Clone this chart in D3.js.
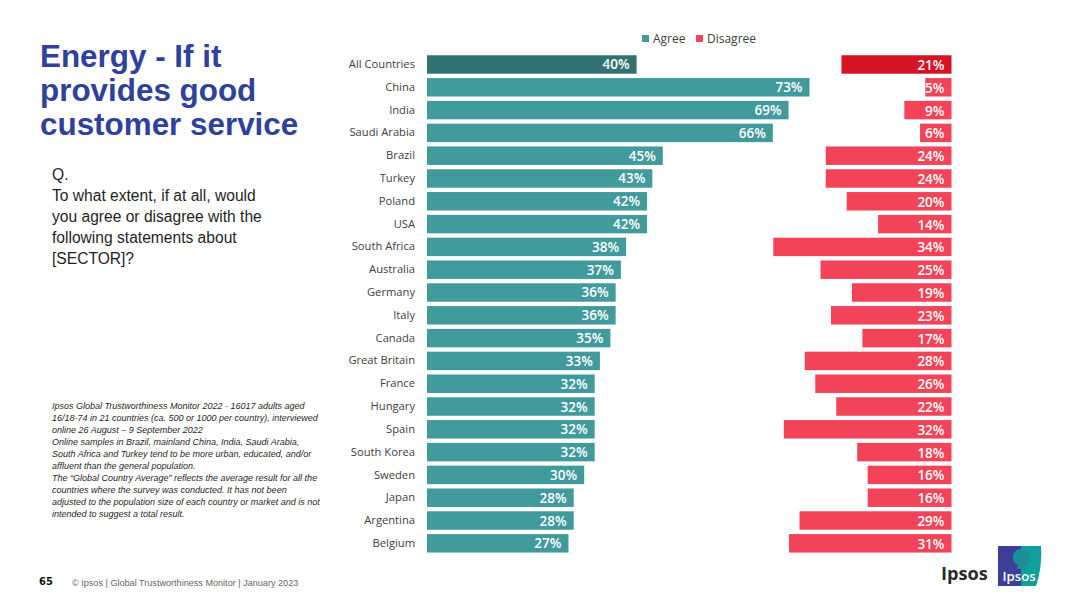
<!DOCTYPE html>
<html>
<head>
<meta charset="utf-8">
<script src="https://d3js.org/d3.v7.min.js"></script>
<style>
  html, body { margin: 0; padding: 0; background: #fff; }
  svg { display: block; }
  .country { font: 11.2px "Open Sans", sans-serif; fill: #404040; }
  .val { font: 600 13.5px "Open Sans", sans-serif; fill: #fff; text-anchor: end; }
  .legend { font: 12px "Open Sans", sans-serif; fill: #404040; }
  .title { font: bold 31.4px "Liberation Sans", Arial, sans-serif; fill: #2f419b; }
  .question { font: 15.6px "Liberation Sans", Arial, sans-serif; fill: #1f1f1f; }
  .note { font: italic 9px "Liberation Sans", Arial, sans-serif; fill: #1f1f1f; }
</style>
</head>
<body>
<svg width="1080" height="607"></svg>
<script>
const countries = ["All Countries", "China", "India", "Saudi Arabia", "Brazil", "Turkey", "Poland", "USA",
  "South Africa", "Australia", "Germany", "Italy", "Canada", "Great Britain", "France", "Hungary",
  "Spain", "South Korea", "Sweden", "Japan", "Argentina", "Belgium"];
const agree = [40, 73, 69, 66, 45, 43, 42, 42, 38, 37, 36, 36, 35, 33, 32, 32, 32, 32, 30, 28, 28, 27];
const disagree = [21, 5, 9, 6, 24, 24, 20, 14, 34, 25, 19, 23, 17, 28, 26, 22, 32, 18, 16, 16, 29, 31];
const seriesNames = ["Agree", "Disagree"];
const titleLines = ["Energy - If it", "provides good", "customer service"];
const questionLines = ["Q.", "To what extent, if at all, would", "you agree or disagree with the",
  "following statements about", "[SECTOR]?"];
const noteLines = ["Ipsos Global Trustworthiness Monitor 2022 - 16017 adults aged",
  "16/18-74 in 21 countries (ca. 500 or 1000 per country), interviewed",
  "online 26 August \u2013 9 September 2022",
  "Online samples in Brazil, mainland China, India, Saudi Arabia,",
  "South Africa and Turkey tend to be more urban, educated, and/or",
  "affluent than the general population.",
  "The \u201cGlobal Country Average\u201d reflects the average result for all the",
  "countries where the survey was conducted. It has not been",
  "adjusted to the population size of each country or market and is not",
  "intended to suggest a total result."];

const svg = d3.select("svg");

//row positions
const y = d3.scaleBand().domain(countries).range([53.2, 554.6]).paddingInner(0.19).paddingOuter(0.09);

//both sides use the same px per percent
const xAgree = d3.scaleLinear().domain([0, 100]).range([427, 951]);
const xDisagree = d3.scaleLinear().domain([0, 100]).range([951.5, 427.5]);

const colorAgree = i => i === 0 ? "#327273" : "#419a9b";
const colorDisagree = i => i === 0 ? "#d71224" : "#f24358";

//country labels
svg.append("g")
    .call(d3.axisLeft(y).tickSize(0).tickPadding(0))
    .attr("transform", "translate(415, 0)")
    .call(g => g.select(".domain").remove())
    .selectAll("text")
    .attr("class", "country")
    .attr("dy", "0.32em");

//agree bars
svg.append("g").selectAll("rect")
    .data(agree)
    .enter()
    .append("rect")
    .attr("x", xAgree(0))
    .attr("y", (d, i) => y(countries[i]))
    .attr("width", d => xAgree(d) - xAgree(0))
    .attr("height", y.bandwidth())
    .attr("fill", (d, i) => colorAgree(i));

//disagree bars
svg.append("g").selectAll("rect")
    .data(disagree)
    .enter()
    .append("rect")
    .attr("x", d => xDisagree(d))
    .attr("y", (d, i) => y(countries[i]))
    .attr("width", d => xDisagree(0) - xDisagree(d))
    .attr("height", y.bandwidth())
    .attr("fill", (d, i) => colorDisagree(i));

//value labels
svg.append("g").selectAll("text")
    .data(agree)
    .enter()
    .append("text")
    .attr("class", "val")
    .attr("x", d => xAgree(d) - 7)
    .attr("y", (d, i) => y(countries[i]) + y.bandwidth() / 2 + 5)
    .text(d => d + "%");

svg.append("g").selectAll("text")
    .data(disagree)
    .enter()
    .append("text")
    .attr("class", "val")
    .attr("x", xDisagree(0) - 7)
    .attr("y", (d, i) => y(countries[i]) + y.bandwidth() / 2 + 5.5)
    .text(d => d + "%");

//legend
const legendX = [642, 696];
seriesNames.forEach((name, i) => {
    svg.append("rect")
        .attr("x", legendX[i]).attr("y", 35)
        .attr("width", 7).attr("height", 7)
        .attr("fill", i === 0 ? colorAgree(1) : colorDisagree(1));
    svg.append("text")
        .attr("class", "legend")
        .attr("x", legendX[i] + 11).attr("y", 43)
        .text(name);
});

//left column text
svg.append("g").selectAll("text")
    .data(titleLines)
    .enter()
    .append("text")
    .attr("class", "title")
    .attr("x", 40)
    .attr("y", (d, i) => 66.5 + i * 34)
    .text(d => d);

svg.append("g").selectAll("text")
    .data(questionLines)
    .enter()
    .append("text")
    .attr("class", "question")
    .attr("x", 52)
    .attr("y", (d, i) => 179.5 + i * 21)
    .text(d => d);

svg.append("g").selectAll("text")
    .data(noteLines)
    .enter()
    .append("text")
    .attr("class", "note")
    .attr("x", 52)
    .attr("y", (d, i) => 409 + i * 12)
    .text(d => d);

//footer
svg.append("text")
    .attr("x", 39).attr("y", 585)
    .style("font", "bold 10px 'DejaVu Sans', sans-serif")
    .attr("fill", "#111")
    .text("65");
svg.append("text")
    .attr("x", 72).attr("y", 586)
    .style("font", "9.1px 'Liberation Sans', Arial, sans-serif")
    .attr("fill", "#666")
    .text("\u00a9 Ipsos | Global Trustworthiness Monitor | January 2023");

//logo
svg.append("text")
    .attr("x", 941).attr("y", 580)
    .style("font", "700 18.2px 'Open Sans', sans-serif")
    .attr("fill", "#2b2b2b")
    .text("Ipsos");
svg.append("path").attr("d", "M998 546H1021V586H998Z").attr("fill", "#3c3f98");
svg.append("path").attr("d", "M1021 546H1041C1042 560 1040 574 1036 586H1021Z").attr("fill", "#0fa09b");
svg.append("path")
    .attr("d", "M1014 562C1011 556 1014 550 1020 549C1026 549 1029 553 1029 558L1031 561L1029 562C1029 566 1027 567 1024 566L1024 569H1017L1018 565C1016 564 1015 563 1014 562Z")
    .attr("fill", "#1b8f95");
svg.append("text")
    .attr("x", 1002.5).attr("y", 581)
    .style("font", "600 13.2px 'Open Sans', sans-serif")
    .attr("fill", "#fff")
    .text("Ipsos");
</script>
</body>
</html>
